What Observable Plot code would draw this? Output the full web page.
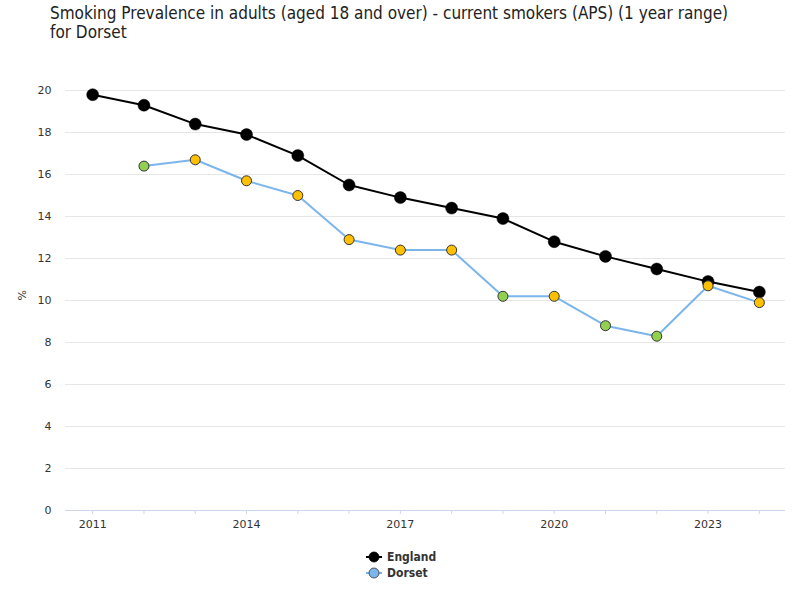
<!DOCTYPE html>
<html><head><meta charset="utf-8">
<script src="https://cdn.jsdelivr.net/npm/d3@7"></script>
<script src="https://cdn.jsdelivr.net/npm/@observablehq/plot@0.6"></script>
<style>
html,body{margin:0;padding:0;background:#fff;}
#wrap{position:relative;width:800px;height:600px;overflow:hidden;font-family:"DejaVu Sans",sans-serif;}
#title{position:absolute;left:50px;top:4px;font-family:"DejaVu Sans Condensed","DejaVu Sans",sans-serif;font-size:17px;line-height:19px;color:#222;}
#legend{position:absolute;left:366px;top:549px;font-family:"DejaVu Sans Condensed","DejaVu Sans",sans-serif;font-size:12px;font-weight:bold;color:#333;}
#legend div{display:flex;align-items:center;height:16px;}
#legend svg{margin-right:5px;}
#chart{position:absolute;left:0;top:0;}
</style></head>
<body><div id="wrap">
<div id="chart"></div>
<div id="title">Smoking Prevalence in adults (aged 18 and over) - current smokers (APS) (1 year range)<br>for Dorset</div>
<div id="legend"></div>
</div>
<script>
const years = [2011,2012,2013,2014,2015,2016,2017,2018,2019,2020,2021,2022,2023,2024];
const englandValues = [19.8,19.3,18.4,17.9,16.9,15.5,14.9,14.4,13.9,12.8,12.1,11.5,10.9,10.4];
const dorsetYears = [2012,2013,2014,2015,2016,2017,2018,2019,2020,2021,2022,2023,2024];
const dorsetValues = [16.4,16.7,15.7,15.0,12.9,12.4,12.4,10.2,10.2,8.8,8.3,10.7,9.9];
const dorsetComparison = ["Better","Similar","Similar","Similar","Similar","Similar","Similar","Better","Similar","Better","Better","Similar","Similar"];
const labelYears = [2011,2014,2017,2020,2023];
const yTicks = [0,2,4,6,8,10,12,14,16,18,20];
const seriesNames = ["England","Dorset"];
const seriesColors = ["#000000","#7cb5ec"];
const compNames = ["Better","Similar"];
const compColors = ["#92d050","#ffc000"];

const england = years.map((y,i)=>({year:y,value:englandValues[i]}));
const dorset = dorsetYears.map((y,i)=>({year:y,value:dorsetValues[i],comp:dorsetComparison[i]}));

const chart = Plot.plot({
  width:800, height:600,
  marginLeft:65, marginRight:15, marginTop:90, marginBottom:90,
  style:{fontFamily:"DejaVu Sans, sans-serif", fontSize:"11px", color:"#333"},
  x:{domain:[2010.47,2024.51]},
  y:{domain:[0,20]},
  color:{domain:compNames, range:compColors},
  marks:[
    Plot.gridY(yTicks.filter(d=>d>0),{stroke:"#e6e6e6",strokeOpacity:1}),
    Plot.axisY(yTicks,{tickSize:0,tickPadding:14,label:null,fontSize:11,fill:"#333"}),
    Plot.text(["%"],{frameAnchor:"left",dx:-43,rotate:-90,fontSize:11,fill:"#333"}),
    Plot.ruleY([0],{stroke:"#ccd6eb",strokeWidth:1.2}),
    Plot.axisX(years,{tickSize:4,stroke:"#ccd6eb",strokeOpacity:1,tickFormat:()=>"",label:null}),
    Plot.axisX(labelYears,{tickSize:0,tickPadding:10,tickFormat:d=>String(d),label:null,fontSize:11,fill:"#333"}),
    Plot.line(england,{x:"year",y:"value",stroke:seriesColors[0],strokeWidth:2}),
    Plot.line(dorset,{x:"year",y:"value",stroke:seriesColors[1],strokeWidth:2}),
    Plot.dot(england,{x:"year",y:"value",r:6,fill:"#000",stroke:"#000",strokeWidth:0.5}),
    Plot.dot(dorset,{x:"year",y:"value",r:5,fill:"comp",stroke:"#333",strokeWidth:1})
  ]
});
document.getElementById("chart").appendChild(chart);

const legend = document.getElementById("legend");
seriesNames.forEach((name,i)=>{
  const row = document.createElement("div");
  const fill = i===0?"#000":"#7cb5ec";
  const stroke = i===0?"#000":"#333";
  row.innerHTML = `<svg width="16" height="14"><line x1="0" x2="16" y1="7" y2="7" stroke="${seriesColors[i]}" stroke-width="2"/><circle cx="8" cy="7" r="5" fill="${fill}" stroke="${stroke}" stroke-width="0.8"/></svg><span>${name}</span>`;
  legend.appendChild(row);
});
</script>
</body></html>
